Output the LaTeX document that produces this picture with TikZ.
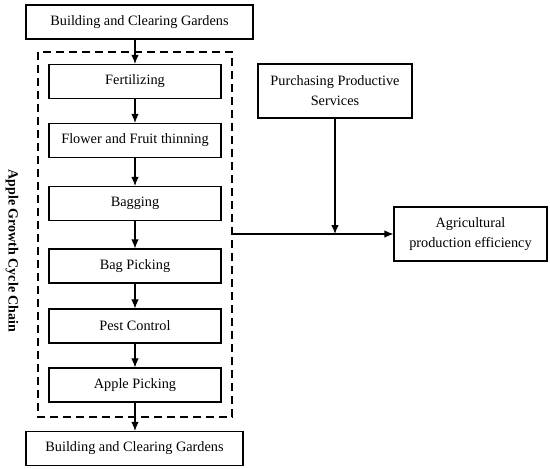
\documentclass[tikz,border=0pt]{standalone}
\usepackage{fontspec}
\setmainfont{Liberation Serif}
\usepackage{tikz}
\usetikzlibrary{shapes,arrows,arrows.meta,positioning,calc}

\begin{document}
\begin{tikzpicture}[x=1pt, y=-1pt,
    box/.style={draw, line width=1.2pt, minimum height=34pt, inner sep=2pt,
        align=center, font=\fontsize{14.3}{20}\selectfont},
    flow/.style={-{Latex[length=9pt,width=7.5pt]}, line width=1.1pt}]
    \useasboundingbox (0,0) rectangle (550,469);

    % Start and end of the cycle
    \node[box, minimum width=227pt] (start) at (139.5,22) {Building and Clearing Gardens};
    \node[box, minimum width=217pt] (finish) at (134.5,448.5) {Building and Clearing Gardens};

    % Growth cycle steps
    \foreach \name/\y/\step in {fert/81.5/Fertilizing, thin/140.5/Flower and Fruit thinning,
        bag/203.5/Bagging, unbag/266/Bag Picking, pest/326/Pest Control, pick/385/Apple Picking}
        \node[box, minimum width=172pt] (\name) at (135,\y) {\step};

    % Dashed frame round the chain
    \draw[dashed, line width=2pt, dash pattern=on 8pt off 5pt] (38,52) rectangle (232,417);
    \coordinate (frame) at (232,234);
    \node[rotate=-90, font=\fontsize{14}{16}\selectfont\bfseries] (chain) at (12,251) {Apple Growth Cycle Chain};

    % Arrows down the chain
    \draw[flow] (fert.north |- start.south) -- (fert.north);
    \draw[flow] (fert) -- (thin);
    \draw[flow] (thin) -- (bag);
    \draw[flow] (bag) -- (unbag);
    \draw[flow] (unbag) -- (pest);
    \draw[flow] (pest) -- (pick);
    \draw[flow] (pick) -- (pick.south |- finish.north);

    % Services and efficiency
    \node[box, minimum width=154pt, minimum height=54pt] (service) at (335,91) {Purchasing Productive\\Services};
    \node[box, minimum width=153pt, minimum height=54pt] (effect) at (470.5,234) {Agricultural\\production efficiency};

    \draw[flow] (frame) -- (effect);
    \coordinate (meet) at (service.south |- frame);
    \draw[flow] (service) -- (meet);

\end{tikzpicture}
\end{document}
